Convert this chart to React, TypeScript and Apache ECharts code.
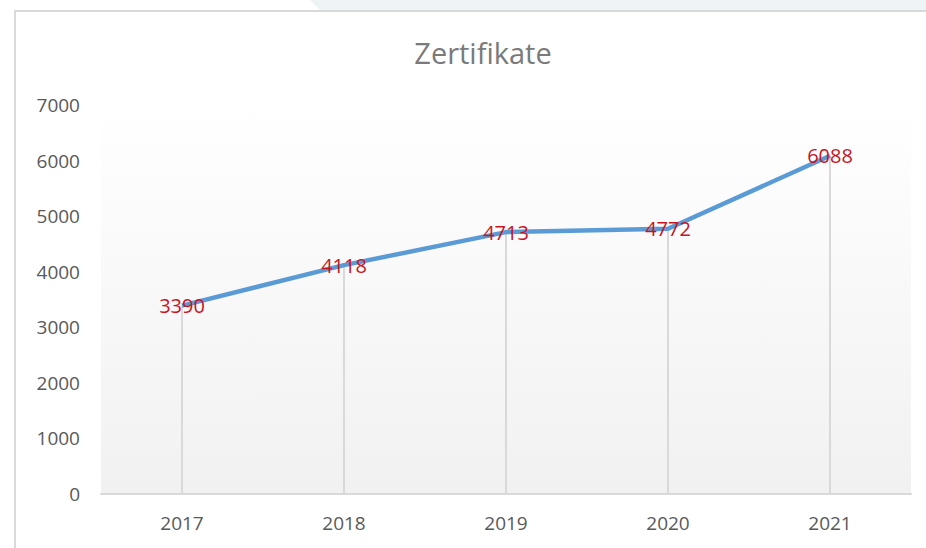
import React, { useEffect, useRef } from "react";
import * as echarts from "echarts";

const categories = ["2017", "2018", "2019", "2020", "2021"];
const values = [3390, 4118, 4713, 4772, 6088];
const yTicks = [0, 1000, 2000, 3000, 4000, 5000, 6000, 7000];
const title = "Zertifikate";

const FONT = "'Open Sans', 'Noto Sans', sans-serif";

export default function App() {
  const ref = useRef<HTMLDivElement>(null);
  useEffect(() => {
    document.body.style.margin = "0";
    const chart = echarts.init(ref.current!, null, { renderer: "svg" });
    chart.setOption({
      animation: false,
      backgroundColor: "#ffffff",
      title: {
        text: title,
        left: 478,
        textAlign: "center",
        top: 33,
        textStyle: { fontFamily: FONT, fontSize: 29, fontWeight: "normal", color: "#7a7a7a" },
      },
      graphic: [
        {
          type: "polygon",
          shape: { points: [[310, 0], [926, 0], [926, 10], [320, 10]] },
          style: { fill: "#eef3f6" },
          silent: true,
        },
        {
          type: "polyline",
          shape: { points: [[15, 548], [15, 11], [926, 11]] },
          style: { stroke: "#d9d9d9", lineWidth: 2, fill: "none" },
          silent: true,
        },
      ],
      grid: {
        left: 101,
        right: 15,
        top: 105,
        bottom: 54,
        show: true,
        borderWidth: 0,
        backgroundColor: new echarts.graphic.LinearGradient(0, 0, 0, 1, [
          { offset: 0, color: "#ffffff" },
          { offset: 1, color: "#f1f1f1" },
        ]),
      },
      xAxis: {
        type: "category",
        data: categories,
        boundaryGap: true,
        axisLine: { show: true, lineStyle: { color: "#d9d9d9", width: 2 } },
        axisTick: { show: false },
        axisLabel: { fontFamily: FONT, fontSize: 19, color: "#595959", margin: 19 },
      },
      yAxis: {
        type: "value",
        min: yTicks[0],
        max: yTicks[yTicks.length - 1],
        interval: 1000,
        axisLine: { show: false },
        axisTick: { show: false },
        splitLine: { show: false },
        axisLabel: {
          fontFamily: FONT,
          fontSize: 19,
          color: "#595959",
          margin: 21,
          formatter: (v: number) => String(v),
        },
      },
      series: [
        {
          type: "bar",
          data: values,
          barWidth: 2,
          itemStyle: { color: "#d9d9d9" },
          silent: true,
          z: 1,
        },
        {
          type: "line",
          data: values,
          symbol: "circle",
          symbolSize: 2,
          showSymbol: true,
          itemStyle: { color: "rgba(0,0,0,0)" },
          lineStyle: { color: "#5b9bd5", width: 4.5 },
          z: 3,
          label: {
            show: true,
            position: "inside",
            fontFamily: FONT,
            fontSize: 20,
            color: "#c8141e",
            formatter: (p: any) => String(p.value),
          },
        },
      ],
    });
    return () => chart.dispose();
  }, []);
  return <div ref={ref} style={{ position: "absolute", left: 0, top: 0, width: 926, height: 548 }} />;
}
